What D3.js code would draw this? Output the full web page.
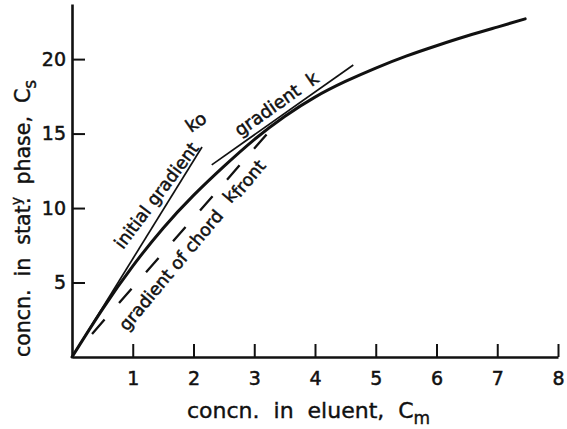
<!DOCTYPE html>
<html>
<head>
<meta charset="utf-8">
<script src="https://cdn.jsdelivr.net/npm/d3@7"></script>
<style>
  html, body { margin: 0; padding: 0; background: #fff; }
  svg { display: block; }
  text { font-family: "DejaVu Sans", sans-serif; fill: #111; }
</style>
</head>
<body>
<svg id="chart" width="567" height="429"></svg>
<script>
// Isotherm: concentration in stationary phase vs. concentration in eluent
const cmValues = [0, 0.5, 1, 1.5, 2, 2.5, 3, 3.5, 4, 4.5, 5, 5.5, 6, 6.5, 7, 7.46];
const csValues = [0, 3.2, 6.1, 8.65, 10.85, 12.8, 14.6, 16.15, 17.45, 18.5, 19.4, 20.2, 20.9, 21.55, 22.15, 22.7];

// straight construction lines: [Cm, Cs] end points
const initialGradient = [[0, 0], [2.14, 14.1]];
const tangentGradient = [[2.30, 12.9], [4.63, 19.6]];
const chordGradient   = [[0.33, 1.55], [3.28, 15.3]];

const xTicks = [1, 2, 3, 4, 5, 6, 7, 8];
const yTicks = [5, 10, 15, 20];

const svg = d3.select("#chart");

const x = d3.scaleLinear().domain([0, 8]).range([72, 558]);
const y = d3.scaleLinear().domain([0, 23.7]).range([357, 4]);

// axes with inward ticks
const xAxis = svg.append("g")
  .attr("transform", `translate(0,${y(0)})`)
  .call(d3.axisBottom(x).tickValues(xTicks).tickSizeInner(-13).tickSizeOuter(0).tickPadding(15));
const yAxis = svg.append("g")
  .attr("transform", `translate(${x(0)},0)`)
  .call(d3.axisLeft(y).tickValues(yTicks).tickSizeInner(-13).tickSizeOuter(0).tickPadding(6));

[xAxis, yAxis].forEach(g => {
  g.select(".domain").attr("stroke", "#111").attr("stroke-width", 2.6);
  g.selectAll(".tick line").attr("stroke", "#111").attr("stroke-width", 2);
  g.selectAll(".tick text").attr("fill", "#111").style("font-size", "19px")
    .attr("font-family", "DejaVu Sans, sans-serif").attr("stroke", "#111").attr("stroke-width", 0.5);
});

// the isotherm
const curve = cmValues.map((c, i) => [c, csValues[i]]);
svg.append("path")
  .datum(curve)
  .attr("d", d3.line().x(d => x(d[0])).y(d => y(d[1])).curve(d3.curveNatural))
  .attr("fill", "none").attr("stroke", "#111").attr("stroke-width", 3).attr("stroke-linecap", "round");

const straight = d3.line().x(d => x(d[0])).y(d => y(d[1]));
svg.append("path").datum(initialGradient).attr("d", straight)
  .attr("fill", "none").attr("stroke", "#111").attr("stroke-width", 1.7);
svg.append("path").datum(tangentGradient).attr("d", straight)
  .attr("fill", "none").attr("stroke", "#111").attr("stroke-width", 1.7);
svg.append("path").datum(chordGradient).attr("d", straight)
  .attr("fill", "none").attr("stroke", "#111").attr("stroke-width", 2.3)
  .attr("stroke-dasharray", "19,22");

// axis titles
const xt = svg.append("text")
  .attr("x", 187).attr("y", 418)
  .style("font-size", "22px").style("white-space", "pre")
  .attr("stroke", "#111").attr("stroke-width", 0.4);
xt.append("tspan").text("concn.  in  eluent,  C");
xt.append("tspan").attr("dy", 6).style("font-size", "17px").text("m");

const yt = svg.append("text")
  .attr("transform", "translate(30,357) rotate(-90)")
  .style("font-size", "20.5px").style("white-space", "pre")
  .attr("stroke", "#111").attr("stroke-width", 0.4);
yt.append("tspan").text("concn.  in  stat");
yt.append("tspan").attr("dy", -9).style("font-size", "14px").text("y");
yt.append("tspan").attr("dx", -7).attr("dy", 9).text(".");
yt.append("tspan").text("  phase,  C");
yt.append("tspan").attr("dy", 6).style("font-size", "17px").text("s");

// construction line labels
function label(px, py, angle, size) {
  return svg.append("text")
    .attr("transform", `translate(${px},${py}) rotate(${angle})`)
    .style("font-size", size + "px").style("white-space", "pre")
    .attr("stroke", "#111").attr("stroke-width", 0.5);
}
label(123, 250, -53, 17.5).text("initial gradient");
label(191, 133, -35, 18).text("ko");
label(240, 137, -35, 18).text("gradient  k");
label(127, 332, -50, 17.5).text("gradient of chord");
const kf = label(231, 204, -50, 17.5);
kf.append("tspan").text("k");
kf.append("tspan").attr("dy", 3).text("front");
</script>
</body>
</html>
